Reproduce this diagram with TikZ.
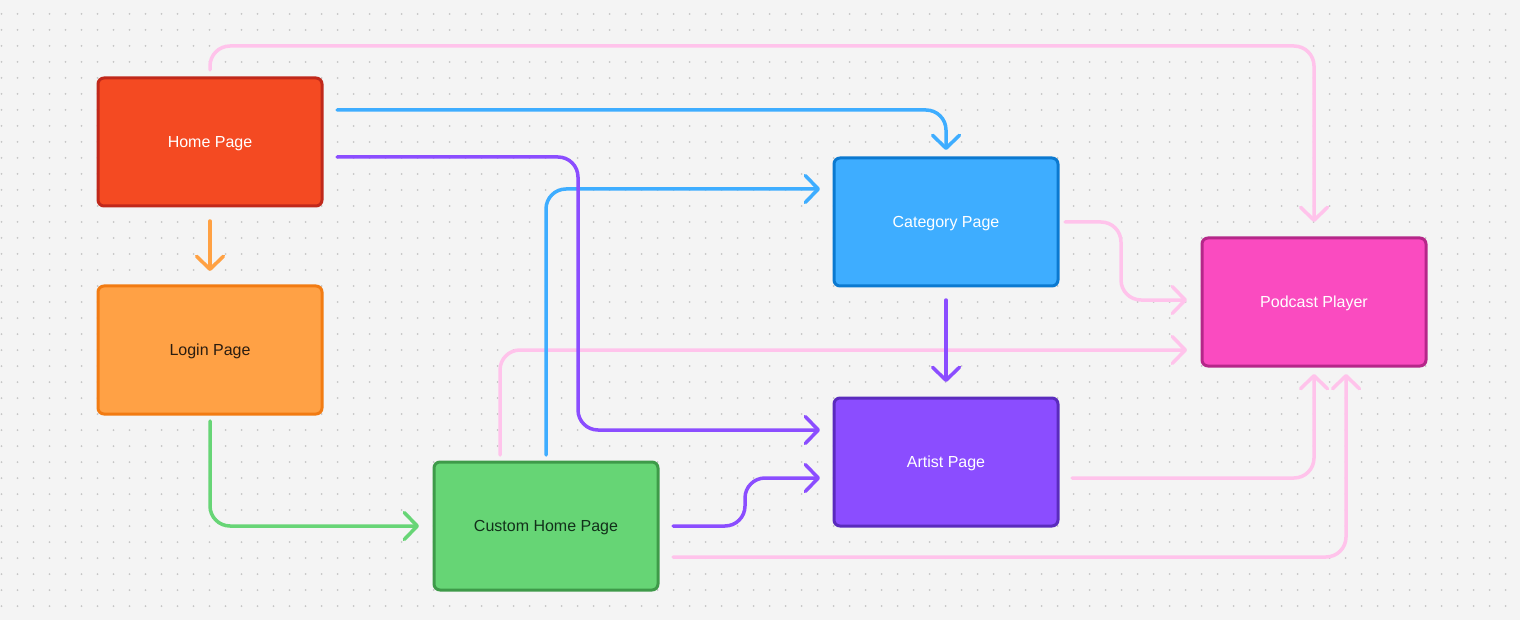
\documentclass[tikz,border=0pt]{standalone}
\usepackage{fontspec}
\setmainfont{Liberation Sans}
\usetikzlibrary{arrows.meta}
\definecolor{bgcol}{HTML}{F4F4F4}
\definecolor{dotcol}{HTML}{C6C6C6}
\definecolor{pinkln}{HTML}{FFC3EB}
\definecolor{blueln}{HTML}{3EADFF}
\definecolor{purpln}{HTML}{8B4DFF}
\definecolor{orangeln}{HTML}{FFA143}
\definecolor{greenln}{HTML}{67D576}
\definecolor{homefill}{HTML}{F44A22}
\definecolor{homedraw}{HTML}{C0281A}
\definecolor{loginfill}{HTML}{FFA145}
\definecolor{logindraw}{HTML}{F27B12}
\definecolor{custfill}{HTML}{66D575}
\definecolor{custdraw}{HTML}{3E9A49}
\definecolor{catfill}{HTML}{3EADFF}
\definecolor{catdraw}{HTML}{0B79D0}
\definecolor{artfill}{HTML}{8B4DFF}
\definecolor{artdraw}{HTML}{5A2BBD}
\definecolor{podfill}{HTML}{FA4BC0}
\definecolor{poddraw}{HTML}{B52789}
\definecolor{darktxt}{HTML}{2B1D10}
\definecolor{darkgreentxt}{HTML}{12301A}
\tikzset{
  pagebox/.style={draw, line width=3pt, rounded corners=6pt, minimum width=224pt,
    minimum height=128pt, inner sep=0pt, outer sep=0pt, text height=11.5pt, text depth=0pt,
    font=\fontsize{16}{19}\selectfont},
  conn/.style={line width=3.5pt, line cap=round, line join=round, rounded corners=20pt,
    -{Straight Barb[length=13pt,width=27pt,round]}}
}
\begin{document}
\begin{tikzpicture}[x=1pt,y=-1pt]
\fill[bgcol] (0,0) rectangle (1520,620);
\useasboundingbox (0,0) rectangle (1520,620);
\foreach \yy in {14,30,...,606}
  \foreach \xx in {1.5,17.5,...,1520}
    \fill[dotcol] (\xx,\yy) circle[radius=1pt];

\node[pagebox, fill=homefill, draw=homedraw, text=white] (home) at (210,142) {Home Page};
\node[pagebox, fill=loginfill, draw=logindraw, text=darktxt] (login) at (210,350) {Login Page};
\node[pagebox, fill=custfill, draw=custdraw, text=darkgreentxt] (cust) at (546,526) {Custom Home Page};
\node[pagebox, fill=catfill, draw=catdraw, text=white] (cat) at (946,222) {Category Page};
\node[pagebox, fill=artfill, draw=artdraw, text=white] (art) at (946,462) {Artist Page};
\node[pagebox, fill=podfill, draw=poddraw, text=white] (pod) at (1314,302) {Podcast Player};

% pink connectors (underneath)
\draw[conn, pinkln] ([yshift=8pt]home.north) -- ++(0,-24) -| ([yshift=16pt]pod.north);
\draw[conn, pinkln] ([xshift=-46pt,yshift=7pt]cust.north) |- ([xshift=-15pt,yshift=-48pt]pod.west);
\draw[conn, pinkln] ([xshift=7pt]cat.east) -- ++(56,0) |- ([xshift=-15pt,yshift=2pt]pod.west);
\draw[conn, pinkln] ([xshift=14pt,yshift=-16pt]art.east) -| ([yshift=-8pt]pod.south);
\draw[conn, pinkln] ([xshift=15pt,yshift=-31pt]cust.east) -| ([xshift=32pt,yshift=-8pt]pod.south);

% other connectors
\draw[conn, orangeln] ([yshift=-15pt]home.south) -- ([yshift=15pt]login.north);
\draw[conn, greenln] ([yshift=-7pt]login.south) |- ([xshift=-15pt]cust.west);
\draw[conn, blueln] ([xshift=15pt,yshift=32pt]home.east) -| ([yshift=8pt]cat.north);
\draw[conn, blueln] ([yshift=7pt]cust.north) |- ([xshift=-14pt,yshift=33pt]cat.west);
\draw[conn, purpln] ([xshift=15pt,yshift=-15pt]home.east) -- ++(241,0) |- ([xshift=-14pt,yshift=32pt]art.west);
\draw[conn, purpln] ([xshift=15pt]cust.east) -- ++(72,0) |- ([xshift=-14pt,yshift=-16pt]art.west);
\draw[conn, purpln] ([yshift=-14pt]cat.south) -- ([yshift=16pt]art.north);
\end{tikzpicture}
\end{document}
